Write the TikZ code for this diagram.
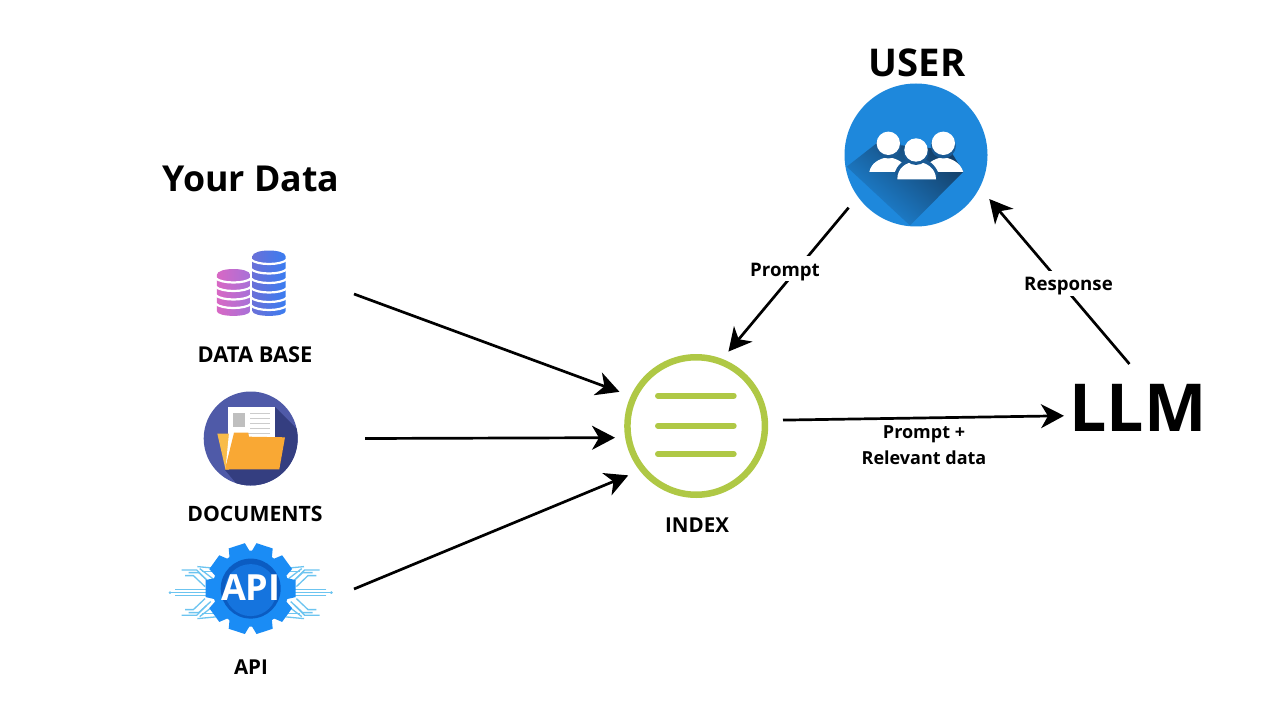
\documentclass[tikz,border=0pt]{standalone}
\usepackage{fontspec}
\setmainfont{Open Sans}[BoldFont={Open Sans Bold}]
\usetikzlibrary{arrows.meta}
\def\u{0.75pt}
\definecolor{ring}{HTML}{AFC845}
\definecolor{userblue}{HTML}{1E88DC}
\definecolor{usershade}{HTML}{143E66}
\definecolor{headring}{HTML}{1A5A94}
\definecolor{folderbg}{HTML}{4F5AA8}
\definecolor{foldershade}{HTML}{343E80}
\definecolor{folderback}{HTML}{F8BC4A}
\definecolor{folderfront}{HTML}{F9A834}
\definecolor{gearblue}{HTML}{1A8CF5}
\definecolor{geardark}{HTML}{0B5CC2}
\definecolor{gearmid}{HTML}{1574DE}
\definecolor{wire}{HTML}{6CC4F0}
\definecolor{dbpinkL}{HTML}{D868C4}
\definecolor{dbpinkR}{HTML}{A870D8}
\definecolor{dbblueL}{HTML}{6A70D8}
\definecolor{dbblueR}{HTML}{3A7CF0}
\tikzset{
  x=0.75pt,y=-0.75pt,
  arrowline/.style={line width=2.7*\u,-{Stealth[length=23*\u,width=24*\u,inset=7*\u]}},
  title/.style={font=\bfseries\fontsize{26.8}{30}\selectfont,inner sep=0pt},
  caption/.style={font=\bfseries\fontsize{15.4}{18}\selectfont,inner sep=0pt},
  edgelabel/.style={font=\bfseries\fontsize{13.5}{20}\selectfont,inner sep=2pt,align=center},
  cutlabel/.style={font=\bfseries\fontsize{14}{20}\selectfont,inner sep=2pt,fill=white,minimum height=25*\u},
  indexbar/.style={ring,line width=6*\u,line cap=round},
  anchorbox/.style={inner sep=0pt,outer sep=0pt,minimum height=80*\u},
  wireline/.style={wire,line width=1.3*\u}
}
\newcommand{\dbstack}[6]{% x, top, bottom, r, left colour, right colour
  \shade[left color=#5,right color=#6] (#1-#4,#2) -- (#1-#4,#3-5)
    .. controls (#1-#4,#3+1.5) and (#1+#4,#3+1.5) .. (#1+#4,#3-5)
    -- (#1+#4,#2) .. controls (#1+#4,#2-8) and (#1-#4,#2-8) .. (#1-#4,#2) -- cycle;
}
\begin{document}
\begin{tikzpicture}
\useasboundingbox (0,0) rectangle (1280,720);
\fill[white] (0,0) rectangle (1280,720);

% ---------- Titles
\node[title] (yourdata) at (251,179) {Your Data};
\node[title,font=\bfseries\fontsize{28.7}{32}\selectfont] (usertitle) at (917,63) {USER};

% ---------- Data base icon
\dbstack{233.5}{275}{316}{16.7}{dbpinkL}{dbpinkR}
\dbstack{269}{256.5}{316}{16.7}{dbblueL}{dbblueR}
\foreach \m in {282.5,291,299.5,308}
  \draw[white,line width=2.2*\u] (215.5,\m-4.5) .. controls (221,\m+1.5) and (246,\m+1.5) .. (251.5,\m-4.5);
\foreach \m in {264,273.5,283,292.5,302,310}
  \draw[white,line width=2.2*\u] (251,\m-4.5) .. controls (256.5,\m+1.5) and (281.5,\m+1.5) .. (287,\m-4.5);
\node[anchorbox,minimum width=206*\u] (db) at (251,285) {};
\node[caption,font=\bfseries\fontsize{16.4}{18}\selectfont] (dbcap) at (255,354.5) {DATA BASE};

% ---------- Documents icon
\fill[folderbg] (250.7,438.5) circle[radius=47];
\begin{scope}
  \clip (250.7,438.5) circle[radius=47];
  \fill[foldershade] (275,407) -- (330,462) -- (300,500) -- (250,500) -- (225,470) -- cycle;
\end{scope}
\fill[white] (227.7,407.3) rectangle (275,460);
\fill[black!25] (232.7,413.3) rectangle (245,427.3);
\foreach \y in {413.5,418.5,423.5,428.5}
  \draw[black!20,line width=1*\u] (250,\y) -- (270,\y);
\foreach \y in {433.5,438}
  \draw[black!20,line width=1*\u] (233,\y) -- (270,\y);
\fill[folderback] (217.3,433.5) -- (229,433.5) -- (229,469.5) -- (225.5,469.5) -- cycle;
\fill[white] (229,433) -- (234,433) -- (225.5,469) -- cycle;
\fill[folderfront] (234,432.7) -- (248.3,432.7) -- (249,436.7) -- (285,437.3) -- (279.3,469.3) -- (225,469.3) -- cycle;
\node[anchorbox,minimum width=228*\u] (doc) at (251,438.5) {};
\node[caption,font=\bfseries\fontsize{15.9}{18}\selectfont] (doccap) at (255,513.5) {DOCUMENTS};

% ---------- API icon
\begin{scope}[shift={(250.7,592.6)}]
  \foreach \sx in {1,-1} \foreach \sy in {1,-1} {
    \begin{scope}[xscale=\sx,yscale=\sy]
      \draw[wireline] (-80.7,0) -- (-40,0);
      \fill[wire] (-80.7,0) circle[radius=1.3];
      \draw[wireline] (-75.7,3) -- (-40,3);
      \draw[wireline] (-53.3,26) -- (-35,24.3);
      \draw[wireline] (-49,21) -- (-35,21);
      \draw[wireline] (-69,22.7) -- (-54,22.7) -- (-44,12.7);
      \draw[wireline] (-65.7,17) -- (-57.3,17) -- (-45.7,6);
      \draw[wireline] (-62,20) -- (-52,20) -- (-40,9);
      \draw[wireline] (-51,24) -- (-38,14);
    \end{scope}
  }
\end{scope}
\begin{scope}[shift={(250.7,588.6)}]
  \fill[gearblue] (0,0) circle[radius=38];
  \foreach \a in {0,36,...,324} {
    \begin{scope}[rotate=\a+18]
      \fill[gearblue] (-11,-34) -- (-8.5,-45) -- (8.5,-45) -- (11,-34) -- cycle;
    \end{scope}
  }
  \fill[geardark] (0,0) circle[radius=30];
  \fill[gearmid] (0,1.5) circle[radius=26];
\end{scope}
\node[inner sep=0pt,white,font=\bfseries\fontsize{27}{28}\selectfont] (apitext) at (250.7,588) {API};
\node[anchorbox,minimum width=206*\u] (api) at (251,589) {};
\node[caption] (apicap) at (251,667.5) {API};

% ---------- Index
\node[circle,draw=ring,line width=6.5*\u,minimum size=137.5*\u,inner sep=0pt,outer sep=15.25*\u] (index) at (696.2,426) {};
\draw[indexbar] (658,395.7) -- (733.7,395.7);
\draw[indexbar] (658,425.7) -- (733.7,425.7);
\draw[indexbar] (658,454) -- (733.7,454);
\node[caption] (indexcap) at (697,525.5) {INDEX};

% ---------- User
\node[circle,fill=userblue,minimum size=143*\u,inner sep=0pt,outer sep=14*\u] (user) at (916,155) {};
\begin{scope}
  \clip (916,155) circle[radius=71.5];
  \shade[top color=usershade,bottom color=userblue,shading angle=-40]
    (877,143) -- (846.7,166.7) -- (910,225.5) -- (963.3,171.7) -- (950,150) -- cycle;
\end{scope}
\foreach \hx in {888.3,943.3} {
  \fill[white] (\hx-19,172) .. controls (\hx-17,163) and (\hx-10,159) .. (\hx,157)
     .. controls (\hx+10,159) and (\hx+17,163) .. (\hx+20,172) -- cycle;
  \fill[headring] (\hx,146) circle[radius=12.5];
  \fill[white] (\hx,143.3) circle[radius=11.7];
}
\fill[headring] (897,180) -- (895,172) .. controls (899,161) and (908,158) .. (916,158)
   .. controls (924,158) and (933,161) .. (938,172) -- (936,180) -- cycle;
\fill[white] (897.3,179.3) .. controls (897.3,168) and (906,162) .. (916,161.5)
   .. controls (926,162) and (936,168) .. (936,179.3) -- cycle;
\fill[headring] (916,152.5) circle[radius=12.5];
\fill[white] (916,150) circle[radius=11.7];

% ---------- LLM
\node[inner sep=0pt,outer sep=0pt,minimum width=148*\u,minimum height=88*\u,font=\bfseries\fontsize{49.6}{54}\selectfont] (llm) at (1138,408) {LLM};

% ---------- Connectors
\draw[arrowline] (db.-5.5) -- (index.156.8);
\draw[arrowline,shorten >=-2*\u] (doc.east) -- (index.188.6);
\draw[arrowline] (api.east) -- (index.216.6);
\draw[arrowline,shorten <=3*\u] (index.4.6) -- (llm.186.2);
\draw[arrowline] (llm.101.2) -- (user.329.6);
\draw[arrowline,shorten >=-3*\u] (user.218.8) -- (index.66.6);
\node[cutlabel] (resp) at (1068.5,283) {\raisebox{-5.25pt}[0pt][0pt]{Response}};
\node[cutlabel] (prompt) at (785,268) {\raisebox{-6pt}[0pt][0pt]{Prompt}};
\node[edgelabel] (relevant) at (924,445) {Prompt +\\Relevant data};
\end{tikzpicture}
\end{document}
